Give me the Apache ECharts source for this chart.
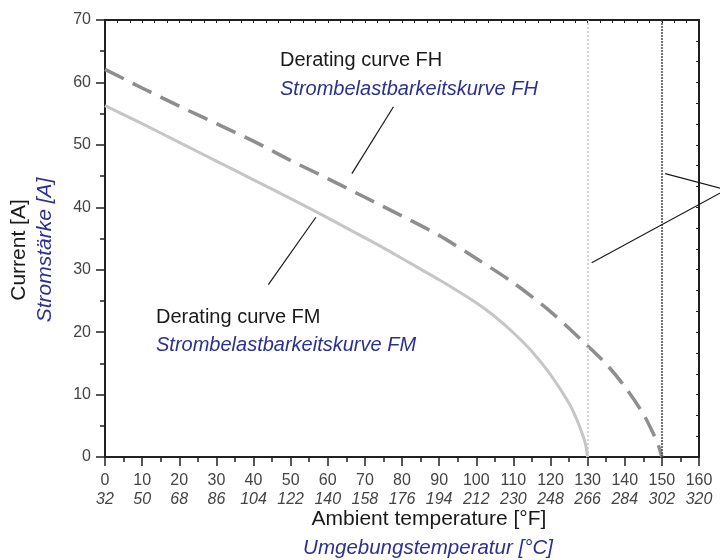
<!DOCTYPE html>
<html>
<head>
<meta charset="utf-8">
<script src="https://cdn.jsdelivr.net/npm/echarts@6/dist/echarts.min.js"></script>
<style>
  html, body { margin: 0; padding: 0; background: #ffffff; }
  #chart { width: 720px; height: 560px; }
</style>
</head>
<body>
<div id="chart"></div>
<script>
// Tick labels (bottom axis): upright values and italic values
const cTicks = [0, 10, 20, 30, 40, 50, 60, 70, 80, 90, 100, 110, 120, 130, 140, 150, 160];
const fTicks = [32, 50, 68, 86, 104, 122, 140, 158, 176, 194, 212, 230, 248, 266, 284, 302, 320];

// Derating curve FM (solid light grey)
const fmTemp = [0, 10, 20, 30, 40, 50, 60, 65, 70, 75, 80, 85, 90, 95, 100, 105, 110, 115, 120, 125, 127, 128.5, 129.5, 130];
const fmCurr = [56.3, 53.4, 50.4, 47.4, 44.4, 41.4, 38.3, 36.7, 35.1, 33.5, 31.8, 30.1, 28.4, 26.6, 24.7, 22.5, 19.9, 16.9, 13.2, 8.6, 6.1, 3.8, 1.9, 0];

// Derating curve FH (dashed grey)
const fhTemp = [0, 10, 20, 30, 40, 50, 60, 70, 80, 90, 100, 110, 120, 130, 135, 140, 145, 147.5, 149, 150];
const fhCurr = [62.1, 59.1, 56.2, 53.4, 50.6, 47.5, 44.6, 41.6, 38.6, 35.5, 31.8, 27.9, 23.3, 17.8, 14.9, 11.3, 6.9, 4.0, 2.0, 0];

// Vertical reference lines (temperature)
const refFM = 130;
const refFH = 150;

// Annotation pointer lines (data coordinates)
const fhPointer = [[77.7, 56.1], [66.5, 45.4]];
const fmPointer = [[56.8, 38.4], [44.0, 27.6]];
const limitPointer = [[150.9, 45.4], [167.3, 42.8], [131.1, 31.1]];

const fmData = fmTemp.map((t, i) => [t, fmCurr[i]]);
const fhData = fhTemp.map((t, i) => [t, fhCurr[i]]);

const FONT = '"Liberation Sans", Arial, sans-serif';
const AX = '#231f20';
const BLUE = '#2c3090';
const TICKC = '#444444';

const chart = echarts.init(document.getElementById('chart'), null, { renderer: 'canvas' });

function txt(x, y, text, italic, color, size, rot) {
  return {
    type: 'text', x: x, y: y, rotation: rot || 0, z: 100,
    style: {
      text: text, fill: color,
      font: (italic ? 'italic ' : '') + size + 'px ' + FONT,
      align: 'left', verticalAlign: 'middle',
      textAlign: 'left', textVerticalAlign: 'middle'
    }
  };
}
function txtC(x, y, text, italic, color, size, rot) {
  const o = txt(x, y, text, italic, color, size, rot);
  o.style.align = 'center'; o.style.textAlign = 'center';
  return o;
}

const texts = [
  txt(280, 60, 'Derating curve FH', false, '#1a1a1a', 20),
  txt(280, 89, 'Strombelastbarkeitskurve FH', true, BLUE, 20),
  txt(156, 317, 'Derating curve FM', false, '#1a1a1a', 20),
  txt(156, 345, 'Strombelastbarkeitskurve FM', true, BLUE, 20),
  txtC(19, 250, 'Current [A]', false, '#1a1a1a', 21, Math.PI / 2),
  txtC(45, 250, 'Stromstärke [A]', true, BLUE, 21, Math.PI / 2),
  txtC(429, 519, 'Ambient temperature [°F]', false, '#1a1a1a', 21),
  txtC(428, 548, 'Umgebungstemperatur [°C]', true, BLUE, 20.5)
];

chart.setOption({
  animation: false,
  backgroundColor: '#ffffff',
  grid: { left: 105, right: 21, top: 20, bottom: 103, containLabel: false },
  xAxis: [
    {
      type: 'value', position: 'bottom', min: 0, max: 160, interval: 10,
      axisLine: { show: true, onZero: false, lineStyle: { color: AX, width: 2 } },
      axisTick: { show: true, inside: false, length: 9, lineStyle: { color: AX, width: 1.5 } },
      minorTick: { show: true, splitNumber: 2, length: 5, lineStyle: { color: AX, width: 1.5 } },
      splitLine: { show: false },
      axisLabel: {
        margin: 14,
        formatter: function (v) {
          const i = cTicks.indexOf(v);
          if (i < 0) return '';
          return '{c|' + cTicks[i] + '}\n{f|' + fTicks[i] + '}';
        },
        rich: {
          c: { fontSize: 16, fontFamily: FONT, color: TICKC, lineHeight: 19 },
          f: { fontSize: 16, fontFamily: FONT, fontStyle: 'italic', color: TICKC, lineHeight: 19 }
        }
      }
    },
    {
      type: 'value', position: 'top', min: 0, max: 160, interval: 160 / 48,
      axisLine: { show: true, onZero: false, lineStyle: { color: AX, width: 2 } },
      axisTick: { show: true, inside: true, length: 3, lineStyle: { color: AX, width: 1 } },
      axisLabel: { show: false }, splitLine: { show: false }
    }
  ],
  yAxis: [
    {
      type: 'value', position: 'left', min: 0, max: 70, interval: 10,
      axisLine: { show: true, onZero: false, lineStyle: { color: AX, width: 2 } },
      axisTick: { show: true, inside: false, length: 9, lineStyle: { color: AX, width: 1.5 } },
      minorTick: { show: true, splitNumber: 2, length: 5, lineStyle: { color: AX, width: 1.5 } },
      splitLine: { show: false },
      axisLabel: { margin: 14, fontSize: 16, fontFamily: FONT, color: TICKC }
    },
    {
      type: 'value', position: 'right', min: 0, max: 70, interval: 70 / 21,
      axisLine: { show: true, onZero: false, lineStyle: { color: AX, width: 2 } },
      axisTick: { show: true, inside: true, length: 3, lineStyle: { color: AX, width: 1 } },
      axisLabel: { show: false }, splitLine: { show: false }
    }
  ],
  series: [
    {
      type: 'line', data: fmData, smooth: 0.25, showSymbol: false, symbol: 'none',
      lineStyle: { color: '#c6c6c6', width: 3 }, z: 3,
      markLine: {
        silent: true, symbol: 'none', label: { show: false },
        data: [
          { xAxis: refFM, lineStyle: { color: '#c8c8c8', type: [2, 2], width: 1.5 } },
          { xAxis: refFH, lineStyle: { color: '#444444', type: [2, 1], width: 1.5 } }
        ]
      }
    },
    {
      type: 'line', data: fhData, smooth: 0.25, showSymbol: false, symbol: 'none',
      lineStyle: { color: '#8e8e8e', width: 3.5, type: [21, 10], cap: 'butt' }, z: 4
    }
  ],
  graphic: texts
});

// Pointer lines: positioned through the chart's own axis scales
function toPx(pts) {
  return pts.map(p => chart.convertToPixel({ xAxisIndex: 0, yAxisIndex: 0 }, p));
}
const pointers = [fhPointer, fmPointer, limitPointer].map(pts => ({
  type: 'polyline', z: 50, silent: true,
  shape: { points: toPx(pts) },
  style: { stroke: '#1a1a1a', lineWidth: 1.2, fill: null }
}));
chart.setOption({ graphic: texts.concat(pointers) });
</script>
</body>
</html>
